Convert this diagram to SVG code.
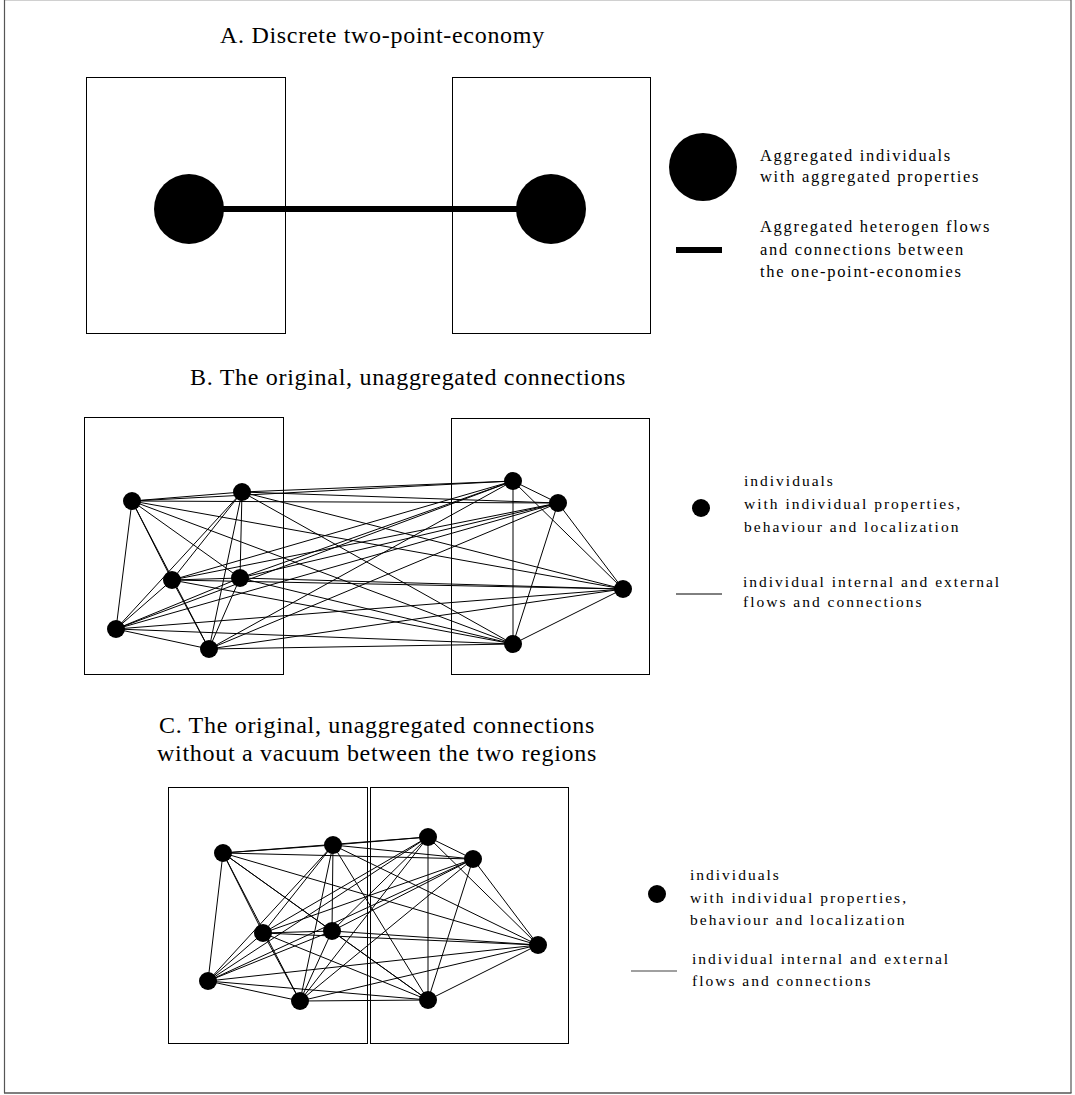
<svg xmlns="http://www.w3.org/2000/svg" width="1075" height="1095" viewBox="0 0 1075 1095">
<defs>
<style>
.frame{fill:none;stroke:#000;stroke-width:1}
.title{font-family:"Liberation Serif","Times New Roman",serif;font-size:24px;letter-spacing:0.7px;fill:#000}
.mid{text-anchor:middle}
.legA{font-family:"Liberation Serif","Times New Roman",serif;font-size:16.5px;letter-spacing:1.7px;fill:#000}
.leg{font-family:"Liberation Serif","Times New Roman",serif;font-size:15.5px;letter-spacing:2px;fill:#000}
.e{stroke:#000;stroke-width:1}
.big{fill:#000}
.dot{fill:#000}
</style>
</defs>
<rect width="1075" height="1095" fill="#fff"/>
<!-- outer border -->
<line x1="4.5" y1="0.5" x2="1071" y2="0.5" stroke="#d0d0d0" stroke-width="1"/>
<line x1="4.5" y1="0" x2="4.5" y2="1093" stroke="#555" stroke-width="1.2"/>
<line x1="1071" y1="0" x2="1071" y2="1093" stroke="#555" stroke-width="1.2"/>
<line x1="4" y1="1093" x2="1071.5" y2="1093" stroke="#555" stroke-width="1.5"/>

<!-- Section A -->
<text class="title" x="220" y="43">A. Discrete two-point-economy</text>
<g id="regionA1"><rect class="frame" x="86.5" y="77.5" width="199" height="256"/></g>
<g id="regionA2"><rect class="frame" x="452.5" y="77.5" width="198" height="256"/></g>
<g id="connectorsA">
<line x1="189" y1="209" x2="551" y2="209" stroke="#000" stroke-width="6"/>
</g>
<g id="aggA1"><circle class="big" cx="189" cy="209" r="35"/></g>
<g id="aggA2"><circle class="big" cx="551" cy="209" r="35"/></g>
<g id="legendA">
<circle class="big" cx="703" cy="167" r="34"/>
<text class="legA" x="760" y="161">Aggregated individuals</text>
<text class="legA" x="760" y="182">with aggregated properties</text>
<line x1="676" y1="250" x2="722" y2="250" stroke="#000" stroke-width="6"/>
<text class="legA" x="760" y="232">Aggregated heterogen flows</text>
<text class="legA" x="760" y="255">and connections between</text>
<text class="legA" x="760" y="277">the one-point-economies</text>
</g>

<!-- Section B -->
<text class="title" x="190" y="385">B. The original, unaggregated connections</text>
<g id="regionB1"><rect class="frame" x="84.5" y="417.5" width="199" height="257"/></g>
<g id="regionB2"><rect class="frame" x="451.5" y="418.5" width="198" height="256"/></g>
<g id="connectorsB">
<line class="e" x1="132" y1="501" x2="242" y2="492"/>
<line class="e" x1="132" y1="501" x2="172" y2="580"/>
<line class="e" x1="132" y1="501" x2="240" y2="578"/>
<line class="e" x1="132" y1="501" x2="116" y2="629"/>
<line class="e" x1="132" y1="501" x2="209" y2="649"/>
<line class="e" x1="132" y1="501" x2="513" y2="481"/>
<line class="e" x1="132" y1="501" x2="558" y2="503"/>
<line class="e" x1="132" y1="501" x2="623" y2="589"/>
<line class="e" x1="132" y1="501" x2="513" y2="644"/>
<line class="e" x1="242" y1="492" x2="172" y2="580"/>
<line class="e" x1="242" y1="492" x2="240" y2="578"/>
<line class="e" x1="242" y1="492" x2="116" y2="629"/>
<line class="e" x1="242" y1="492" x2="209" y2="649"/>
<line class="e" x1="242" y1="492" x2="513" y2="481"/>
<line class="e" x1="242" y1="492" x2="558" y2="503"/>
<line class="e" x1="242" y1="492" x2="623" y2="589"/>
<line class="e" x1="242" y1="492" x2="513" y2="644"/>
<line class="e" x1="172" y1="580" x2="240" y2="578"/>
<line class="e" x1="172" y1="580" x2="116" y2="629"/>
<line class="e" x1="172" y1="580" x2="209" y2="649"/>
<line class="e" x1="172" y1="580" x2="513" y2="481"/>
<line class="e" x1="172" y1="580" x2="558" y2="503"/>
<line class="e" x1="172" y1="580" x2="623" y2="589"/>
<line class="e" x1="172" y1="580" x2="513" y2="644"/>
<line class="e" x1="240" y1="578" x2="116" y2="629"/>
<line class="e" x1="240" y1="578" x2="209" y2="649"/>
<line class="e" x1="240" y1="578" x2="513" y2="481"/>
<line class="e" x1="240" y1="578" x2="558" y2="503"/>
<line class="e" x1="240" y1="578" x2="623" y2="589"/>
<line class="e" x1="240" y1="578" x2="513" y2="644"/>
<line class="e" x1="116" y1="629" x2="209" y2="649"/>
<line class="e" x1="116" y1="629" x2="513" y2="481"/>
<line class="e" x1="116" y1="629" x2="558" y2="503"/>
<line class="e" x1="116" y1="629" x2="623" y2="589"/>
<line class="e" x1="116" y1="629" x2="513" y2="644"/>
<line class="e" x1="209" y1="649" x2="513" y2="481"/>
<line class="e" x1="209" y1="649" x2="558" y2="503"/>
<line class="e" x1="209" y1="649" x2="623" y2="589"/>
<line class="e" x1="209" y1="649" x2="513" y2="644"/>
<line class="e" x1="513" y1="481" x2="558" y2="503"/>
<line class="e" x1="513" y1="481" x2="623" y2="589"/>
<line class="e" x1="513" y1="481" x2="513" y2="644"/>
<line class="e" x1="558" y1="503" x2="623" y2="589"/>
<line class="e" x1="558" y1="503" x2="513" y2="644"/>
<line class="e" x1="623" y1="589" x2="513" y2="644"/>
</g>
<g id="b1"><circle class="dot" cx="132" cy="501" r="9"/></g>
<g id="b2"><circle class="dot" cx="242" cy="492" r="9"/></g>
<g id="b3"><circle class="dot" cx="172" cy="580" r="9"/></g>
<g id="b4"><circle class="dot" cx="240" cy="578" r="9"/></g>
<g id="b5"><circle class="dot" cx="116" cy="629" r="9"/></g>
<g id="b6"><circle class="dot" cx="209" cy="649" r="9"/></g>
<g id="b7"><circle class="dot" cx="513" cy="481" r="9"/></g>
<g id="b8"><circle class="dot" cx="558" cy="503" r="9"/></g>
<g id="b9"><circle class="dot" cx="623" cy="589" r="9"/></g>
<g id="b10"><circle class="dot" cx="513" cy="644" r="9"/></g>
<g id="legendB">
<circle class="dot" cx="701" cy="508" r="9"/>
<text class="leg" x="744" y="486">individuals</text>
<text class="leg" x="744" y="509">with individual properties,</text>
<text class="leg" x="744" y="532">behaviour and localization</text>
<line x1="676" y1="594" x2="722" y2="594" stroke="#000" stroke-width="1"/>
<text class="leg" x="743" y="587">individual internal and external</text>
<text class="leg" x="743" y="607">flows and connections</text>
</g>

<!-- Section C -->
<text class="title mid" x="377" y="733">C. The original, unaggregated connections</text>
<text class="title mid" x="377" y="761">without a vacuum between the two regions</text>
<g id="regionC1"><rect class="frame" x="168.5" y="787.5" width="199" height="256"/></g>
<g id="regionC2"><rect class="frame" x="370.5" y="787.5" width="198" height="256"/></g>
<g id="connectorsC">
<line class="e" x1="223" y1="853" x2="333" y2="845"/>
<line class="e" x1="223" y1="853" x2="263" y2="933"/>
<line class="e" x1="223" y1="853" x2="332" y2="931"/>
<line class="e" x1="223" y1="853" x2="208" y2="981"/>
<line class="e" x1="223" y1="853" x2="300" y2="1001"/>
<line class="e" x1="223" y1="853" x2="428" y2="837"/>
<line class="e" x1="223" y1="853" x2="473" y2="859"/>
<line class="e" x1="223" y1="853" x2="538" y2="945"/>
<line class="e" x1="223" y1="853" x2="428" y2="1000"/>
<line class="e" x1="333" y1="845" x2="263" y2="933"/>
<line class="e" x1="333" y1="845" x2="332" y2="931"/>
<line class="e" x1="333" y1="845" x2="208" y2="981"/>
<line class="e" x1="333" y1="845" x2="300" y2="1001"/>
<line class="e" x1="333" y1="845" x2="428" y2="837"/>
<line class="e" x1="333" y1="845" x2="473" y2="859"/>
<line class="e" x1="333" y1="845" x2="538" y2="945"/>
<line class="e" x1="333" y1="845" x2="428" y2="1000"/>
<line class="e" x1="263" y1="933" x2="332" y2="931"/>
<line class="e" x1="263" y1="933" x2="208" y2="981"/>
<line class="e" x1="263" y1="933" x2="300" y2="1001"/>
<line class="e" x1="263" y1="933" x2="428" y2="837"/>
<line class="e" x1="263" y1="933" x2="473" y2="859"/>
<line class="e" x1="263" y1="933" x2="538" y2="945"/>
<line class="e" x1="263" y1="933" x2="428" y2="1000"/>
<line class="e" x1="332" y1="931" x2="208" y2="981"/>
<line class="e" x1="332" y1="931" x2="300" y2="1001"/>
<line class="e" x1="332" y1="931" x2="428" y2="837"/>
<line class="e" x1="332" y1="931" x2="473" y2="859"/>
<line class="e" x1="332" y1="931" x2="538" y2="945"/>
<line class="e" x1="332" y1="931" x2="428" y2="1000"/>
<line class="e" x1="208" y1="981" x2="300" y2="1001"/>
<line class="e" x1="208" y1="981" x2="428" y2="837"/>
<line class="e" x1="208" y1="981" x2="473" y2="859"/>
<line class="e" x1="208" y1="981" x2="538" y2="945"/>
<line class="e" x1="208" y1="981" x2="428" y2="1000"/>
<line class="e" x1="300" y1="1001" x2="428" y2="837"/>
<line class="e" x1="300" y1="1001" x2="473" y2="859"/>
<line class="e" x1="300" y1="1001" x2="538" y2="945"/>
<line class="e" x1="300" y1="1001" x2="428" y2="1000"/>
<line class="e" x1="428" y1="837" x2="473" y2="859"/>
<line class="e" x1="428" y1="837" x2="538" y2="945"/>
<line class="e" x1="428" y1="837" x2="428" y2="1000"/>
<line class="e" x1="473" y1="859" x2="538" y2="945"/>
<line class="e" x1="473" y1="859" x2="428" y2="1000"/>
<line class="e" x1="538" y1="945" x2="428" y2="1000"/>
</g>
<g id="c1"><circle class="dot" cx="223" cy="853" r="9"/></g>
<g id="c2"><circle class="dot" cx="333" cy="845" r="9"/></g>
<g id="c3"><circle class="dot" cx="263" cy="933" r="9"/></g>
<g id="c4"><circle class="dot" cx="332" cy="931" r="9"/></g>
<g id="c5"><circle class="dot" cx="208" cy="981" r="9"/></g>
<g id="c6"><circle class="dot" cx="300" cy="1001" r="9"/></g>
<g id="c7"><circle class="dot" cx="428" cy="837" r="9"/></g>
<g id="c8"><circle class="dot" cx="473" cy="859" r="9"/></g>
<g id="c9"><circle class="dot" cx="538" cy="945" r="9"/></g>
<g id="c10"><circle class="dot" cx="428" cy="1000" r="9"/></g>
<g id="legendC">
<circle class="dot" cx="657" cy="894" r="9"/>
<text class="leg" x="690" y="880">individuals</text>
<text class="leg" x="690" y="903">with individual properties,</text>
<text class="leg" x="690" y="925">behaviour and localization</text>
<line x1="631" y1="971" x2="677" y2="971" stroke="#808080" stroke-width="1.5"/>
<text class="leg" x="692" y="964">individual internal and external</text>
<text class="leg" x="692" y="986">flows and connections</text>
</g>
</svg>
